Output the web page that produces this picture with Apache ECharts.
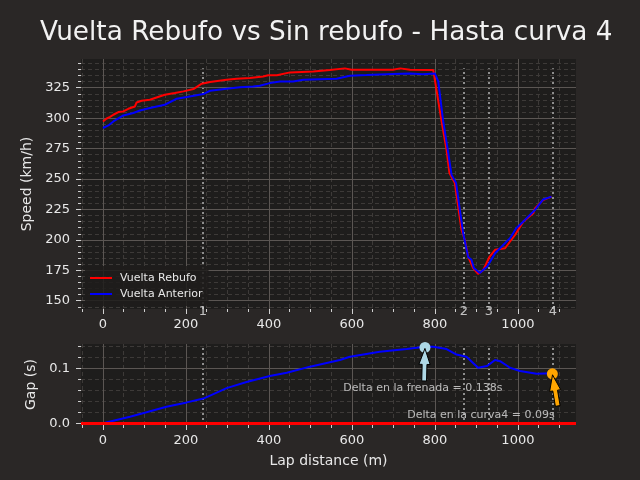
<!DOCTYPE html>
<html><head><meta charset="utf-8">
<script src="https://cdn.jsdelivr.net/npm/echarts@6/dist/echarts.min.js"></script>
<style>html,body{margin:0;padding:0;background:#2a2726}#c{width:640px;height:480px}</style>
</head><body><div id="c"></div>
<script>
// ---- data ----
const rebufoDist  = [0, 8, 17, 25, 37, 49, 61, 77, 81, 93, 113, 129, 149, 173, 194, 218, 238, 258, 298, 322, 354, 358, 386, 398, 419, 451, 507, 547, 583, 599, 699, 716, 740, 796, 800, 816, 828, 835, 848, 864, 872, 880, 892, 904, 916, 932, 945, 969, 993, 1013, 1037, 1041, 1061, 1081];
const rebufoSpeed = [297.3, 299.5, 301, 302.8, 305, 305.5, 307.7, 309.6, 312.9, 314.3, 315.1, 317, 319.2, 320.6, 322, 323.9, 328.3, 329.7, 331.6, 332.4, 333, 334, 334.3, 335.2, 335.2, 337.6, 338.4, 339.5, 340.9, 339.8, 339.8, 340.9, 339.8, 339.5, 338.4, 297.3, 274, 254.9, 246.7, 208.3, 200, 186.3, 176.8, 172.1, 174.9, 186.3, 191.8, 193.1, 204, 215, 221.8, 225.9, 232.7, 235.5];
const anteriorDist  = [0, 13, 25, 49, 73, 89, 113, 149, 178, 202, 242, 258, 298, 330, 362, 378, 402, 427, 458, 483, 563, 595, 635, 699, 740, 770, 800, 808, 820, 831, 840, 851, 868, 880, 888, 894, 908, 926, 945, 981, 996, 1017, 1041, 1061, 1081];
const anteriorSpeed = [291.9, 294, 297.3, 302.2, 304.2, 306.3, 308.3, 311, 316, 317.4, 319.8, 322.5, 324.2, 325.3, 326.1, 326.6, 328.8, 330.2, 330.2, 331.6, 332.4, 334.9, 335.4, 336.3, 336.6, 336, 336.6, 330.2, 297.3, 274, 253.4, 246.7, 205.6, 186, 183.6, 176.8, 172.7, 178.2, 189, 201.4, 209.6, 216.4, 224.6, 233.2, 235.5];
const gapDist  = [0, 65, 105, 153, 202, 242, 298, 346, 402, 443, 499, 547, 571, 595, 667, 732, 776, 796, 828, 852, 876, 904, 925, 945, 957, 981, 1005, 1045, 1081];
const gapValue = [0, 0.012, 0.020, 0.030, 0.038, 0.045, 0.064, 0.075, 0.086, 0.092, 0.103, 0.111, 0.115, 0.121, 0.130, 0.135, 0.139, 0.139, 0.135, 0.125, 0.121, 0.101, 0.104, 0.115, 0.113, 0.101, 0.095, 0.090, 0.091];
const turnDist   = [241, 870, 930, 1084];
const turnLabels = ['1', '2', '3', '4'];
const xMajorTicks = [0, 200, 400, 600, 800, 1000];
const xMinorTicks = [-50, 50, 100, 150, 250, 300, 350, 450, 500, 550, 650, 700, 750, 850, 900, 950, 1050, 1100];
const speedMajorTicks = [150, 175, 200, 225, 250, 275, 300, 325];
const speedMinorTicks = [145, 155, 160, 165, 170, 180, 185, 190, 195, 205, 210, 215, 220, 230, 235, 240, 245, 255, 260, 265, 270, 280, 285, 290, 295, 305, 310, 315, 320, 330, 335, 340, 345];
const gapMajorTicks = [0, 0.1];
const gapMinorTicks = [0.02, 0.04, 0.06, 0.08, 0.12, 0.14];
const annotTexts  = ['Delta en la frenada = 0.138s', 'Delta en la curva4 = 0.09s'];
const annotPoints = [[776, 0.138], [1083, 0.09]];
const annotTextPos = [[771, 0.0635], [911, 0.0155]];
const annotTails  = [[774, 0.077], [1096, 0.0315]];
const annotColors = ['#add8e6', '#ffa500'];

// ---- ranges ----
const X_MIN = -53, X_MAX = 1140;
const S_MIN = 143.2, S_MAX = 348.6;
const G_MIN = -0.0031, G_MAX = 0.1442;

const TXT = '#e8e8e8';
const TICK = '#d0d0d0';
const MAJOR = '#5b5653';
const MINOR = '#3d3a38';
const FONT = 'DejaVu Sans';

function zip(a, b) { return a.map((v, i) => [v, b[i]]); }

function axis(grid, opts) {
  const major = opts.major;
  const base = {
    type: 'value', gridIndex: grid, min: opts.min, max: opts.max,
    position: opts.position, offset: 0,
    axisLine: { show: false, onZero: false },
    splitLine: { show: true, lineStyle: major ? { color: MAJOR, width: 1 } : { color: MINOR, width: 1, type: [4, 3] } },
    axisTick: { show: true, customValues: opts.ticks, length: major ? 5 : 3, lineStyle: { color: TICK, width: 1 } },
    axisLabel: major ? { show: true, customValues: opts.ticks, color: TXT, fontSize: 13, fontFamily: FONT, margin: opts.margin, formatter: opts.formatter } : { show: false },
    z: major ? 2 : 1
  };
  if (opts.name) {
    base.name = opts.name; base.nameLocation = 'middle'; base.nameGap = opts.nameGap;
    base.nameTextStyle = { color: TXT, fontSize: 14, fontFamily: FONT };
  }
  return base;
}

const intFmt = v => String(Math.round(v));

const xAxes = [
  axis(0, { min: X_MIN, max: X_MAX, position: 'bottom', ticks: xMinorTicks, major: false }),
  axis(0, { min: X_MIN, max: X_MAX, position: 'bottom', ticks: xMajorTicks, major: true, margin: 9, formatter: intFmt }),
  axis(1, { min: X_MIN, max: X_MAX, position: 'bottom', ticks: xMinorTicks, major: false }),
  axis(1, { min: X_MIN, max: X_MAX, position: 'bottom', ticks: xMajorTicks, major: true, margin: 9, formatter: intFmt, name: 'Lap distance (m)', nameGap: 29 })
];
const yAxes = [
  axis(0, { min: S_MIN, max: S_MAX, position: 'left', ticks: speedMinorTicks, major: false }),
  axis(0, { min: S_MIN, max: S_MAX, position: 'left', ticks: speedMajorTicks, major: true, margin: 11, formatter: intFmt, name: 'Speed (km/h)', nameGap: 43 }),
  axis(1, { min: G_MIN, max: G_MAX, position: 'left', ticks: gapMinorTicks, major: false }),
  axis(1, { min: G_MIN, max: G_MAX, position: 'left', ticks: gapMajorTicks, major: true, margin: 11, name: 'Gap (s)', nameGap: 38, formatter: v => v.toFixed(1) })
];

const speedTop = Math.max(...rebufoSpeed, ...anteriorSpeed);
const gapTop = Math.max(...gapValue);

function turnLines(yLow, yHigh) {
  return {
    silent: true, symbol: ['none', 'none'], label: { show: false }, z: 1,
    lineStyle: { color: '#8e8e8e', width: 2, type: [2, 3] },
    data: turnDist.map(d => [{ coord: [d, yLow] }, { coord: [d, yHigh] }])
  };
}

function arrowItem(params, api) {
  const tail = api.coord([api.value(0), api.value(1)]);
  const tip0 = api.coord([api.value(2), api.value(3)]);
  const dx = tip0[0] - tail[0], dy = tip0[1] - tail[1];
  const len = Math.hypot(dx, dy);
  const ux = dx / len, uy = dy / len, px = -uy, py = ux;
  const tip = [tip0[0] - ux * 1, tip0[1] - uy * 1];
  const hl = 16, hw = 5.6, sw = 2.4;
  const bx = tip[0] - ux * hl, by = tip[1] - uy * hl;
  const pts = [
    [tail[0] + px * sw, tail[1] + py * sw], [bx + px * sw, by + py * sw], [bx + px * hw, by + py * hw],
    tip, [bx - px * hw, by - py * hw], [bx - px * sw, by - py * sw], [tail[0] - px * sw, tail[1] - py * sw]
  ];
  return { type: 'polygon', shape: { points: pts }, style: { fill: annotColors[params.dataIndex], stroke: '#000', lineWidth: 1 } };
}

const option = {
  backgroundColor: '#2a2726',
  animation: false,
  textStyle: { fontFamily: FONT },
  title: {
    text: 'Vuelta Rebufo vs Sin rebufo - Hasta curva 4',
    left: 40, top: 20, padding: 0,
    textStyle: { color: '#f2f2f2', fontSize: 26.3, fontWeight: 'normal', fontFamily: FONT }
  },
  legend: {
    data: ['Vuelta Rebufo', 'Vuelta Anterior'],
    orient: 'vertical', left: 85, top: 266, padding: [6, 6, 6, 5],
    icon: 'rect', itemWidth: 22, itemHeight: 2, itemGap: 4,
    backgroundColor: 'rgba(30,28,27,0.85)', borderRadius: 3,
    textStyle: { color: TXT, fontSize: 11, fontFamily: FONT, lineHeight: 12, padding: [0, 0, 0, 3] }
  },
  grid: [
    { left: 81, top: 59, width: 495, height: 250, show: true, backgroundColor: '#1e1d1c', borderWidth: 0 },
    { left: 81, top: 344, width: 495, height: 81, show: true, backgroundColor: '#1e1d1c', borderWidth: 0 }
  ],
  xAxis: xAxes,
  yAxis: yAxes,
  series: [
    { name: 'Vuelta Rebufo', type: 'line', xAxisIndex: 1, yAxisIndex: 1, data: zip(rebufoDist, rebufoSpeed), showSymbol: false, symbol: 'none', color: '#ff0000', lineStyle: { color: '#ff0000', width: 2 }, z: 3 },
    { name: 'Vuelta Anterior', type: 'line', xAxisIndex: 1, yAxisIndex: 1, data: zip(anteriorDist, anteriorSpeed), showSymbol: false, symbol: 'none', color: '#0000ff', lineStyle: { color: '#0000ff', width: 2 }, z: 4 },
    { name: 'turnLabels', type: 'scatter', xAxisIndex: 1, yAxisIndex: 1, symbolSize: 0, silent: true, z: 6,
      data: turnDist.map((d, i) => ({ value: [d, S_MIN], name: turnLabels[i] })),
      label: { show: true, position: 'inside', offset: [0, 3], formatter: p => p.name, color: TXT, fontSize: 13, fontFamily: FONT },
      markLine: turnLines(S_MIN, speedTop) },
    { name: 'gapAnterior', type: 'line', xAxisIndex: 3, yAxisIndex: 3, data: zip(gapDist, gapValue), showSymbol: false, symbol: 'none', lineStyle: { color: '#0000ff', width: 2 }, z: 3,
      markLine: { silent: true, symbol: ['none', 'none'], label: { show: false }, z: 5, lineStyle: { color: '#ff0000', width: 3, type: 'solid' }, data: [{ yAxis: 0 }] } },
    { name: 'turnsGap', type: 'scatter', xAxisIndex: 3, yAxisIndex: 3, symbolSize: 0, silent: true, z: 1,
      data: turnDist.map(d => [d, G_MIN]),
      markLine: turnLines(G_MIN, gapTop) },
    { name: 'annotPoints', type: 'scatter', xAxisIndex: 3, yAxisIndex: 3, symbolSize: 11, z: 5,
      data: annotPoints.map((p, i) => ({ value: p, itemStyle: { color: annotColors[i], opacity: 1 } })) },
    { name: 'annotArrows', type: 'custom', xAxisIndex: 3, yAxisIndex: 3, z: 6, silent: true,
      data: annotTails.map((t, i) => [t[0], t[1], annotPoints[i][0], annotPoints[i][1]]),
      renderItem: arrowItem },
    { name: 'annotText', type: 'scatter', xAxisIndex: 3, yAxisIndex: 3, symbolSize: 0, z: 7, silent: true,
      data: annotTextPos.map((p, i) => ({ value: p, name: annotTexts[i] })),
      label: { show: true, position: 'inside', formatter: p => p.name, color: '#e0e0e0', fontSize: 11, fontFamily: FONT } }
  ]
};

const chart = echarts.init(document.getElementById('c'), null, { renderer: 'canvas' });
chart.setOption(option);
</script>
</body></html>
